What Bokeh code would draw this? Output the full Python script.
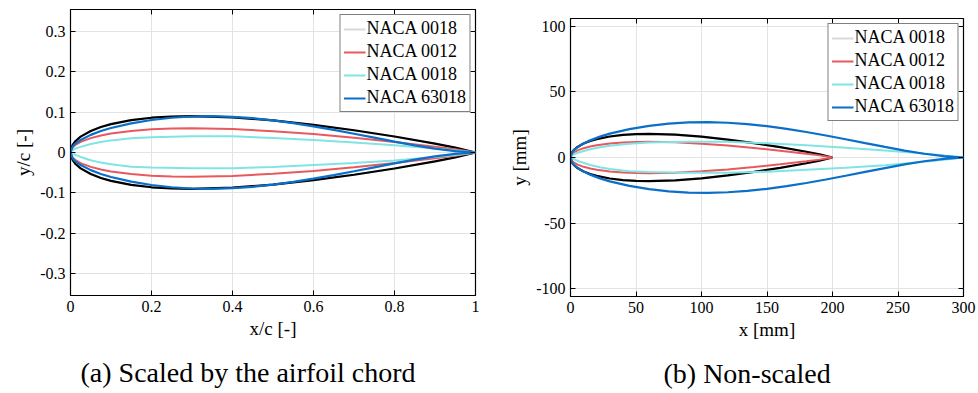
from bokeh.plotting import figure
from bokeh.layouts import row, column
from bokeh.models import (Range1d, FixedTicker, PrintfTickFormatter, LinearAxis,
                          Legend, LegendItem, Title, Spacer)
from bokeh.embed import file_html
from bokeh.resources import INLINE

# ---------------- data (x/c, y/c) ----------------
X_00XX = [0, 0.005, 0.0125, 0.025, 0.05, 0.075, 0.1, 0.15, 0.2, 0.25, 0.3,
          0.4, 0.5, 0.6, 0.7, 0.8, 0.9, 0.95, 1.0]
Y_0018 = [0, 0.0183, 0.0284, 0.0392, 0.0533, 0.0630, 0.0702, 0.0802, 0.0861,
          0.0891, 0.0900, 0.0871, 0.0794, 0.0683, 0.0550, 0.0396, 0.0220, 0.0121, 0.0]
Y_0012 = [0, 0.0122, 0.0189, 0.0262, 0.0356, 0.0420, 0.0468, 0.0535, 0.0574,
          0.0594, 0.0600, 0.0580, 0.0529, 0.0456, 0.0366, 0.0262, 0.0145, 0.0081, 0.0]

X_THIN = [0, 0.005, 0.0125, 0.025, 0.05, 0.075, 0.1, 0.15, 0.2, 0.3, 0.4,
          0.5, 0.6, 0.7, 0.8, 0.9, 0.95, 1.0]
Y_THIN_UP = [0, 0.006, 0.010, 0.014, 0.021, 0.026, 0.030, 0.035, 0.038, 0.040,
             0.040, 0.036, 0.031, 0.025, 0.018, 0.010, 0.005, 0]
Y_THIN_LO = [0, -0.003, -0.006, -0.011, -0.019, -0.025, -0.029, -0.035, -0.037,
             -0.039, -0.039, -0.036, -0.031, -0.026, -0.020, -0.011, -0.006, 0]

X_63018 = [0, 0.005, 0.0075, 0.0125, 0.025, 0.05, 0.075, 0.1, 0.15, 0.2, 0.25,
           0.3, 0.35, 0.4, 0.45, 0.5, 0.55, 0.6, 0.65, 0.7, 0.75, 0.8, 0.85,
           0.9, 0.95, 1.0]
Y_63018 = [0, 0.01404, 0.01713, 0.02217, 0.03104, 0.04362, 0.05308, 0.06068,
           0.07225, 0.08048, 0.08600, 0.08913, 0.08990, 0.08843, 0.08496,
           0.07964, 0.07282, 0.06483, 0.05592, 0.04644, 0.03666, 0.02690,
           0.01763, 0.00954, 0.00352, 0.0]

LABELS = ["NACA 0018", "NACA 0012", "NACA 0018", "NACA 63018"]
CHORD_MM = [200, 200, 300, 300]

X_TICKS_A = [0, 0.2, 0.4, 0.6, 0.8, 1]
Y_TICKS_A = [-0.3, -0.2, -0.1, 0, 0.1, 0.2, 0.3]
X_TICKS_B = [0, 50, 100, 150, 200, 250, 300]
Y_TICKS_B = [-100, -50, 0, 50, 100]

COLORS = ["#000000", "#e8595e", "#80e4e4", "#0a6fc9"]
LEGEND_GRAY = "#d9d9d9"
FONT = "Liberation Serif"


def contour(xs, up, lo):
    return list(xs[::-1]) + list(xs[1:]), list(up[::-1]) + list(lo[1:])


SHAPES = [
    contour(X_00XX, Y_0018, [-v for v in Y_0018]),
    contour(X_00XX, Y_0012, [-v for v in Y_0012]),
    contour(X_THIN, Y_THIN_UP, Y_THIN_LO),
    contour(X_63018, Y_63018, [-v for v in Y_63018]),
]


def panel(scale, xr, yr, xticks, yticks, xlabel, ylabel, caption, cap_offset,
          fw, fh, bl, br, bt, bb):
    p = figure(frame_width=fw, frame_height=fh, x_range=Range1d(*xr),
               y_range=Range1d(*yr), output_backend="svg", toolbar_location=None,
               min_border_left=bl, min_border_right=br, min_border_top=bt,
               min_border_bottom=bb)
    p.background_fill_color = "white"
    p.border_fill_color = "white"
    p.outline_line_color = "black"
    p.outline_line_width = 1.2

    for ax, ticks in ((p.xaxis[0], xticks), (p.yaxis[0], yticks)):
        ax.ticker = FixedTicker(ticks=ticks)
        ax.formatter = PrintfTickFormatter(format="%g")
        ax.major_tick_in = 5
        ax.major_tick_out = 0
        ax.minor_tick_line_color = None
        ax.axis_line_color = "black"
        ax.major_tick_line_color = "black"
        ax.major_label_text_font = FONT
        ax.major_label_text_font_size = "16px"
        ax.major_label_text_color = "black"
        ax.major_label_standoff = 5
        ax.axis_label_text_font = FONT
        ax.axis_label_text_font_size = "19px"
        ax.axis_label_text_font_style = "normal"
        ax.axis_label_text_color = "black"
        ax.axis_label_standoff = 3
    p.xaxis[0].axis_label = xlabel
    p.yaxis[0].axis_label = ylabel

    # tick marks on top and right (box), labels not painted
    for loc, ticks in (("right", yticks), ("above", xticks)):
        a = LinearAxis(ticker=FixedTicker(ticks=ticks), major_tick_in=5,
                       major_tick_out=0, minor_tick_line_color=None,
                       major_label_text_font_size="1px",
                       major_label_text_color=None, axis_line_color=None,
                       major_label_standoff=0)
        p.add_layout(a, loc)

    p.grid.grid_line_color = "#e3e3e3"
    p.grid.grid_line_width = 1
    p.xgrid.ticker = FixedTicker(ticks=xticks)
    p.ygrid.ticker = FixedTicker(ticks=yticks)

    renderers = []
    gx, gy = SHAPES[0]
    gx = [v * scale[0] for v in gx]
    gy = [v * scale[0] for v in gy]
    gray = p.line(gx, gy, color=LEGEND_GRAY, line_width=2)
    for i, (sx, sy) in enumerate(SHAPES):
        r = p.line([v * scale[i] for v in sx], [v * scale[i] for v in sy],
                   color=COLORS[i], line_width=2.2 if i in (0, 3) else 2)
        renderers.append(r)
    items = [LegendItem(label=LABELS[0], renderers=[gray])]
    items += [LegendItem(label=LABELS[i], renderers=[renderers[i]]) for i in (1, 2, 3)]
    leg = Legend(items=items, location="top_right")
    leg.label_text_font = FONT
    leg.label_text_font_size = "18px"
    leg.label_text_color = "black"
    leg.border_line_color = "black"
    leg.border_line_width = 1
    leg.background_fill_alpha = 1
    leg.glyph_width = 22
    leg.glyph_height = 20
    leg.label_height = 20
    leg.label_standoff = 1
    leg.spacing = 2
    leg.padding = 3
    leg.margin = 5
    p.add_layout(leg)

    cap = Title(text=caption, align="left", text_font=FONT,
                text_font_size="28px", text_font_style="normal",
                text_color="black", standoff=26, offset=cap_offset)
    p.add_layout(cap, "below")
    return p


p1 = panel([1, 1, 1, 1], (0, 1), (-0.354, 0.354), X_TICKS_A, Y_TICKS_A,
           "x/c [-]", "y/c [-]", "(a) Scaled by the airfoil chord", 10,
           405, 286, 70, 14, 9, 98)
p2 = panel(CHORD_MM, (0, 300), (-106.1, 106.1), X_TICKS_B, Y_TICKS_B,
           "x [mm]", "y [mm]", "(b) Non-scaled", 93,
           393, 278, 81, 15, 9, 97)

layout = row(p1, column(Spacer(width=489, height=9), p2, spacing=0), spacing=0)
open("out.html", "w").write(file_html(layout, INLINE))
